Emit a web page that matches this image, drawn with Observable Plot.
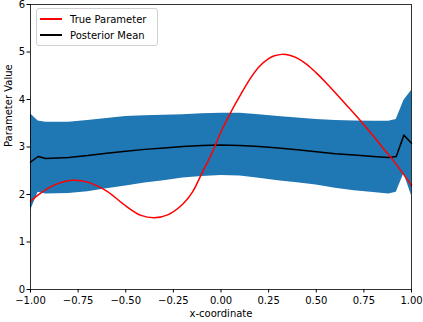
<!DOCTYPE html>
<html>
<head>
<meta charset="utf-8">
<script src="https://cdn.jsdelivr.net/npm/d3@7"></script>
<script src="https://cdn.jsdelivr.net/npm/@observablehq/plot@0.6"></script>
<style>
  html, body { margin: 0; padding: 0; background: white; }
  #wrap { position: relative; width: 423px; height: 322px; font-family: "DejaVu Sans", sans-serif; }
  #legend { position: absolute; left: 36px; top: 8px; width: 120px; height: 36px; border: 1px solid #d0d0d0; border-radius: 3px; background: rgba(255,255,255,0.8); font-size: 10px; color: black; }
  .row { position: absolute; left: 0; height: 14px; display: flex; align-items: center; }
  .sw { width: 22px; height: 2px; margin-left: 3px; margin-right: 8px; }
</style>
</head>
<body>
<div id="wrap"><div id="chart"></div><div id="legend"></div></div>
<script>
// Posterior band grid
const gridX = [-1, -0.96, -0.92, -0.8, -0.7, -0.6, -0.5, -0.4, -0.3, -0.2, -0.1, 0, 0.1, 0.2, 0.3, 0.4, 0.5, 0.6, 0.7, 0.8, 0.88, 0.92, 0.96, 1.0];
const upper = [3.70, 3.55, 3.52, 3.52, 3.56, 3.60, 3.64, 3.66, 3.67, 3.68, 3.70, 3.71, 3.71, 3.68, 3.64, 3.61, 3.58, 3.56, 3.55, 3.54, 3.54, 3.58, 3.98, 4.19];
const lower = [1.66, 2.05, 2.01, 2.02, 2.06, 2.12, 2.18, 2.24, 2.29, 2.35, 2.38, 2.40, 2.39, 2.34, 2.29, 2.25, 2.20, 2.13, 2.08, 2.04, 2.01, 2.05, 2.44, 1.98];
const meanY = [2.68, 2.80, 2.76, 2.78, 2.82, 2.87, 2.91, 2.95, 2.98, 3.01, 3.03, 3.04, 3.03, 3.01, 2.98, 2.94, 2.90, 2.86, 2.83, 2.80, 2.78, 2.80, 3.25, 3.08];
// True parameter
const trueX = [-1, -0.95, -0.9, -0.85, -0.78, -0.7, -0.6, -0.5, -0.42, -0.35, -0.28, -0.2, -0.15, -0.1, -0.05, 0, 0.05, 0.1, 0.15, 0.2, 0.25, 0.28, 0.32, 0.36, 0.4, 0.45, 0.5, 0.55, 0.6, 0.65, 0.7, 0.75, 0.8, 0.85, 0.9, 0.95, 1.0];
const trueY = [1.86, 2.02, 2.15, 2.24, 2.30, 2.26, 2.07, 1.76, 1.56, 1.51, 1.57, 1.80, 2.05, 2.45, 2.85, 3.32, 3.72, 4.08, 4.42, 4.69, 4.86, 4.92, 4.95, 4.93, 4.87, 4.74, 4.56, 4.36, 4.14, 3.92, 3.70, 3.47, 3.23, 2.98, 2.74, 2.47, 2.19];
const xTicks = [-1, -0.75, -0.5, -0.25, 0, 0.25, 0.5, 0.75, 1];
const yTicks = [0, 1, 2, 3, 4, 5, 6];
const seriesNames = ["True Parameter", "Posterior Mean"];
const seriesColors = ["red", "black"];

const band = gridX.map((x, i) => ({x, lo: lower[i], hi: upper[i], m: meanY[i]}));
const truth = trueX.map((x, i) => ({x, y: trueY[i]}));

const plot = Plot.plot({
  width: 423,
  height: 322,
  marginLeft: 30,
  marginRight: 12,
  marginTop: 4,
  marginBottom: 33,
  style: {fontFamily: "DejaVu Sans", fontSize: "10px", color: "black", background: "white"},
  x: {domain: [-1, 1], label: null},
  y: {domain: [0, 6], label: null},
  marks: [
    Plot.areaY(band, {x: "x", y1: "lo", y2: "hi", fill: "#1f77b4"}),
    Plot.line(band, {x: "x", y: "m", stroke: "black", strokeWidth: 1.5}),
    Plot.line(truth, {x: "x", y: "y", stroke: "red", strokeWidth: 1.5, curve: "catmull-rom"}),
    Plot.frame({stroke: "black", strokeWidth: 0.8}),
    Plot.axisX({ticks: xTicks, tickFormat: d3.format(".2f"), tickSize: 3.5, tickPadding: 3.5, label: null}),
    Plot.axisY({ticks: yTicks, tickFormat: d3.format("d"), tickSize: 3.5, tickPadding: 2, label: null}),
    Plot.text(["x-coordinate"], {frameAnchor: "bottom", dy: 27, fontSize: 10}),
    Plot.text(["Parameter Value"], {frameAnchor: "left", dx: -22, rotate: -90, fontSize: 10})
  ]
});
document.getElementById("chart").appendChild(plot);

const legend = document.getElementById("legend");
seriesNames.forEach((name, i) => {
  const row = document.createElement("div");
  row.className = "row";
  row.style.top = (3 + i * 16) + "px";
  const sw = document.createElement("div");
  sw.className = "sw";
  sw.style.background = seriesColors[i];
  const t = document.createElement("span");
  t.textContent = name;
  row.appendChild(sw);
  row.appendChild(t);
  legend.appendChild(row);
});
</script>
</body>
</html>
